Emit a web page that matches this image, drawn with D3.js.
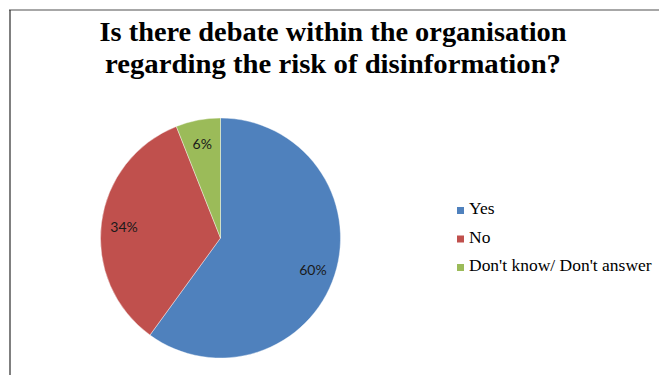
<!DOCTYPE html>
<html>
<head>
<meta charset="utf-8">
<script src="https://cdn.jsdelivr.net/npm/d3@7"></script>
<style>
  html, body { margin: 0; padding: 0; background: #fff; }
  svg { display: block; }
</style>
</head>
<body>
<svg id="chart" width="659" height="375"></svg>
<script>
// Survey answers and their shares (percent)
const categories = ["Yes", "No", "Don't know/ Don't answer"];
const values = [60, 34, 6];
const colors = ["#4F81BD", "#C0504D", "#9BBB59"];
const titleLines = [
  "Is there debate within the organisation",
  "regarding the risk of disinformation?"
];

const SERIF = '"Liberation Serif", "Times New Roman", serif';
const SANS = 'Lato, "Open Sans", sans-serif';

const svg = d3.select("#chart");
const W = 659, H = 375;

// chart frame: grey top edge, dark left edge
svg.append("line").attr("x1", 9).attr("x2", W).attr("y1", 10).attr("y2", 10)
  .attr("stroke", "#8a8a8a").attr("stroke-width", 1.6);
svg.append("line").attr("x1", 10).attr("x2", 10).attr("y1", 10).attr("y2", H)
  .attr("stroke", "#2a2a2a").attr("stroke-width", 1.2);

// title, two centred lines
const title = svg.append("text")
  .style("font-family", SERIF)
  .style("font-weight", "bold")
  .style("font-size", "27px")
  .attr("fill", "#000")
  .attr("text-anchor", "middle");
const titleWidths = [467, 456];
titleLines.forEach((t, i) => {
  title.append("tspan")
    .attr("x", 333)
    .attr("y", 41 + i * 31.5)
    .attr("textLength", titleWidths[i])
    .attr("lengthAdjust", "spacingAndGlyphs")
    .text(t);
});

// pie, clockwise from 12 o'clock in data order
const cx = 220.5, cy = 238, r = 120;
const data = categories.map((c, i) => ({ name: c, value: values[i], color: colors[i] }));
const pie = d3.pie().value(d => d.value).sort(null);
const arc = d3.arc().innerRadius(0).outerRadius(r);
const labelArc = d3.arc().innerRadius(r * 0.81).outerRadius(r * 0.81);

const g = svg.append("g").attr("transform", `translate(${cx},${cy})`);
const arcs = pie(data);
g.selectAll("path.slice").data(arcs).join("path")
  .attr("class", "slice")
  .attr("d", arc)
  .attr("fill", d => d.data.color)
  .attr("stroke", "#ffffff")
  .attr("stroke-width", 0.4);

g.selectAll("text.pct").data(arcs).join("text")
  .attr("class", "pct")
  .attr("transform", d => {
    const [x, y] = labelArc.centroid(d);
    return `translate(${x},${y + 1.5})`;
  })
  .attr("text-anchor", "middle")
  .attr("dy", "0.36em")
  .style("font-family", SANS)
  .style("font-size", "14px")
  .attr("fill", "#1a1a1a")
  .text(d => d.data.value + "%");

// legend
const legend = svg.append("g").attr("transform", "translate(457,207)");
const item = legend.selectAll("g").data(data).join("g")
  .attr("transform", (d, i) => `translate(0,${i * 28.5})`);
item.append("rect").attr("width", 7).attr("height", 7).attr("fill", d => d.color);
item.append("text")
  .attr("transform", "translate(12,7.3) scale(1.06,1)")
  .style("font-family", SERIF)
  .style("font-size", "16.5px")
  .attr("fill", "#000")
  .text(d => d.name);
</script>
</body>
</html>
